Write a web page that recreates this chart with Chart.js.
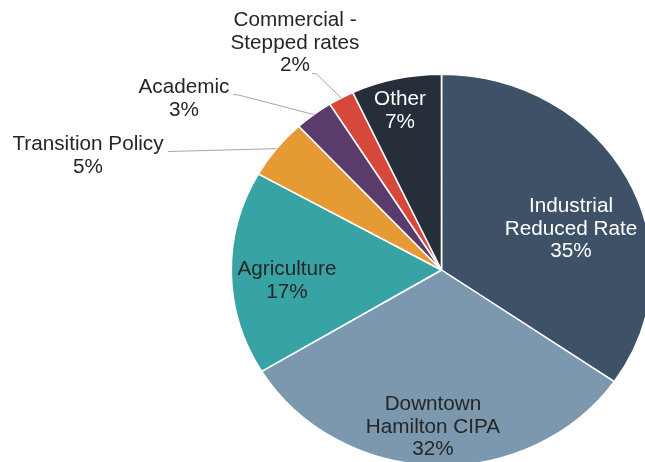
<!DOCTYPE html>
<html>
<head>
<meta charset="utf-8">
<script src="https://cdn.jsdelivr.net/npm/chart.js@4"></script>
<style>
  html, body { margin: 0; padding: 0; background: #fff; overflow: hidden; }
  body { width: 645px; height: 462px; }
  #wrap { position: absolute; left: 0; top: 0; width: 645px; height: 480px; }
</style>
</head>
<body>
<div id="wrap"><canvas id="pie"></canvas></div>
<script>
// slices, clockwise from 12 o'clock
var categories = [
    ['Industrial', 'Reduced Rate'],
    ['Downtown', 'Hamilton CIPA'],
    ['Agriculture'],
    ['Transition Policy'],
    ['Academic'],
    ['Commercial -', 'Stepped rates'],
    ['Other']
];
var shares = [35, 32, 17, 5, 3, 2, 7];
var colours = ['#3e5166', '#7b98ae', '#38a3a5', '#e69a34', '#5a3b6c', '#d6483a', '#262e3a'];

// label placement (page px): centre x, first line y, text colour, leader start/elbow
var labelSpots = [
    { x: 571, y: 207, color: '#ffffff' },
    { x: 433, y: 405, color: '#262626' },
    { x: 287, y: 270, color: '#262626' },
    { x: 88, y: 145, color: '#262626', lead: [[168, 151.5]] },
    { x: 184, y: 88, color: '#262626', lead: [[233, 94.5], [238.5, 95]] },
    { x: 295, y: 21, color: '#262626', lead: [[312, 73.5], [316.5, 74]] },
    { x: 400, y: 100, color: '#ffffff' }
];

var stretchX = 1.074;   // the source picture is a little wider than tall
var lineGap = 22.5;

var stretchPlugin = {
    id: 'stretch',
    beforeDatasetsDraw: function (chart) {
        var arc = chart.getDatasetMeta(0).data[0];
        var ctx = chart.ctx;
        ctx.save();
        ctx.translate(arc.x, arc.y);
        ctx.scale(stretchX, 1);
        ctx.translate(-arc.x, -arc.y);
    },
    afterDatasetsDraw: function (chart) {
        chart.ctx.restore();
    }
};

var labelPlugin = {
    id: 'sliceLabels',
    afterDraw: function (chart) {
        var ctx = chart.ctx;
        var arcs = chart.getDatasetMeta(0).data;
        ctx.save();
        arcs.forEach(function (arc, i) {
            var spot = labelSpots[i];
            if (spot.lead) {
                var mid = (arc.startAngle + arc.endAngle) / 2;
                var ex = arc.x + Math.cos(mid) * arc.outerRadius * stretchX;
                var ey = arc.y + Math.sin(mid) * arc.outerRadius;
                ctx.strokeStyle = '#a6a6a6';
                ctx.lineWidth = 1;
                ctx.beginPath();
                ctx.moveTo(spot.lead[0][0], spot.lead[0][1]);
                for (var k = 1; k < spot.lead.length; k++) ctx.lineTo(spot.lead[k][0], spot.lead[k][1]);
                ctx.lineTo(ex, ey);
                ctx.stroke();
            }
            var lines = categories[i].concat([shares[i] + '%']);
            ctx.fillStyle = spot.color;
            ctx.font = '19.3px "Liberation Sans", Arial, sans-serif';
            ctx.textAlign = 'center';
            ctx.textBaseline = 'middle';
            lines.forEach(function (t, j) {
                ctx.save();
                ctx.translate(spot.x, spot.y + j * lineGap);
                ctx.scale(stretchX, 1);
                ctx.fillText(t, 0, 0);
                ctx.restore();
            });
        });
        ctx.restore();
    }
};

var ctx = document.getElementById('pie').getContext('2d');
var chart = new Chart(ctx, {
    type: 'pie',
    data: {
        labels: categories,
        datasets: [{
            data: shares,
            backgroundColor: colours,
            borderColor: '#ffffff',
            borderWidth: 1.5,
            hoverOffset: 0,
            offset: 0
        }]
    },
    options: {
        responsive: true,
        maintainAspectRatio: false,
        animation: false,
        events: [],
        layout: { padding: { left: 245, right: 7, top: 73, bottom: 13 } },
        plugins: {
            legend: { display: false },
            tooltip: { enabled: false }
        }
    },
    plugins: [stretchPlugin, labelPlugin]
});
</script>
</body>
</html>
